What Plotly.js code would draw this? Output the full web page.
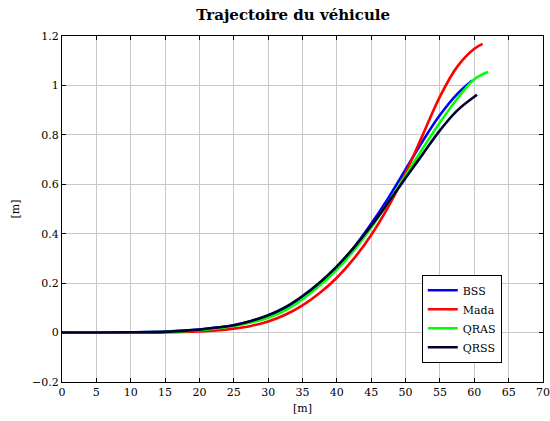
<!DOCTYPE html>
<html>
<head>
<meta charset="utf-8">
<script src="https://cdn.plot.ly/plotly-3.0.1.min.js"></script>
<style>html,body{margin:0;padding:0;background:#fff;}#chart{width:550px;height:421px;}</style>
</head>
<body>
<div id="chart"></div>
<script>
const seriesNames = ["BSS", "Mada", "QRAS", "QRSS"];
const seriesColors = ["#0000ff", "#ff0000", "#00ff00", "#000033"];

const xBSS  = [0, 5, 10, 15, 20, 22.5, 25, 27.5, 30, 32.5, 35, 37.5, 40, 42.5, 45, 47.5, 50, 52.5, 55, 57.5, 59.7];
const yBSS  = [0, 0, 0.001, 0.004, 0.012, 0.02, 0.03, 0.046, 0.068, 0.1, 0.145, 0.2, 0.265, 0.345, 0.44, 0.545, 0.66, 0.775, 0.88, 0.965, 1.02];

const xMada = [0, 5, 10, 15, 20, 22.5, 25, 27.5, 30, 32.5, 35, 37.5, 40, 42.5, 45, 47.5, 50, 52.5, 55, 57.5, 60, 61.2];
const yMada = [0, 0, 0, 0.001, 0.005, 0.009, 0.016, 0.027, 0.045, 0.072, 0.11, 0.16, 0.222, 0.3, 0.395, 0.51, 0.645, 0.8, 0.955, 1.075, 1.148, 1.168];

const xQRAS = [0, 5, 10, 15, 20, 22.5, 25, 27.5, 30, 32.5, 35, 37.5, 40, 42.5, 45, 47.5, 50, 52.5, 55, 57.5, 60, 62];
const yQRAS = [0, 0, 0.001, 0.003, 0.01, 0.017, 0.027, 0.041, 0.06, 0.09, 0.135, 0.19, 0.255, 0.333, 0.425, 0.527, 0.635, 0.745, 0.85, 0.945, 1.025, 1.054];

const xQRSS = [0, 5, 10, 15, 20, 22.5, 25, 27.5, 30, 32.5, 35, 37.5, 40, 42.5, 45, 47.5, 50, 52.5, 55, 57.5, 60.4];
const yQRSS = [0, 0, 0.001, 0.003, 0.012, 0.02, 0.03, 0.047, 0.07, 0.103, 0.148, 0.203, 0.268, 0.345, 0.432, 0.527, 0.625, 0.722, 0.818, 0.898, 0.962];

const xTicks = [0, 5, 10, 15, 20, 25, 30, 35, 40, 45, 50, 55, 60, 65, 70];
const yTicks = [-0.2, 0, 0.2, 0.4, 0.6, 0.8, 1, 1.2];

const xs = [xBSS, xMada, xQRAS, xQRSS];
const ys = [yBSS, yMada, yQRAS, yQRSS];

const serif = "DejaVu Serif";

const traces = seriesNames.map((n, i) => ({
  x: xs[i], y: ys[i], name: n, type: "scatter", mode: "lines",
  line: {color: seriesColors[i], width: 2.6, shape: "spline", smoothing: 1}
}));

const axisCommon = {
  showline: true, linecolor: "#000", linewidth: 1, mirror: "ticks",
  ticks: "inside", ticklen: 4, tickcolor: "#000",
  showgrid: true, gridcolor: "#c8c8c8", gridwidth: 1, zeroline: false,
  tickfont: {family: serif, size: 11, color: "#000"}
};

const layout = {
  width: 550, height: 421,
  margin: {l: 62, r: 7, t: 36, b: 39},
  paper_bgcolor: "#fff", plot_bgcolor: "#fff",
  font: {family: serif, color: "#000"},
  title: {text: "<b>Trajectoire du véhicule</b>", font: {family: serif, size: 15, color: "#000"},
          x: 0.533, xref: "container", xanchor: "center", y: 0.965, yanchor: "middle", yref: "container"},
  xaxis: Object.assign({}, axisCommon, {
    range: [0, 70], tickvals: xTicks, ticktext: xTicks.map(String),
    title: {text: "[m]", font: {family: serif, size: 11, color: "#000"}, standoff: 6}
  }),
  yaxis: Object.assign({}, axisCommon, {
    range: [-0.2, 1.2], tickvals: yTicks, ticktext: yTicks.map(v => v < 0 ? "\u2212" + Math.abs(v) : String(v)),
    title: {text: "[m]", font: {family: serif, size: 11, color: "#000"}, standoff: 10}
  }),
  showlegend: true,
  legend: {x: 0.748, y: 0.31, xanchor: "left", yanchor: "top",
           bgcolor: "#fff", bordercolor: "#000", borderwidth: 1,
           font: {family: serif, size: 11, color: "#000"}, tracegroupgap: 0, itemwidth: 30}
};

Plotly.newPlot("chart", traces, layout, {displayModeBar: false, staticPlot: true});
</script>
</body>
</html>
